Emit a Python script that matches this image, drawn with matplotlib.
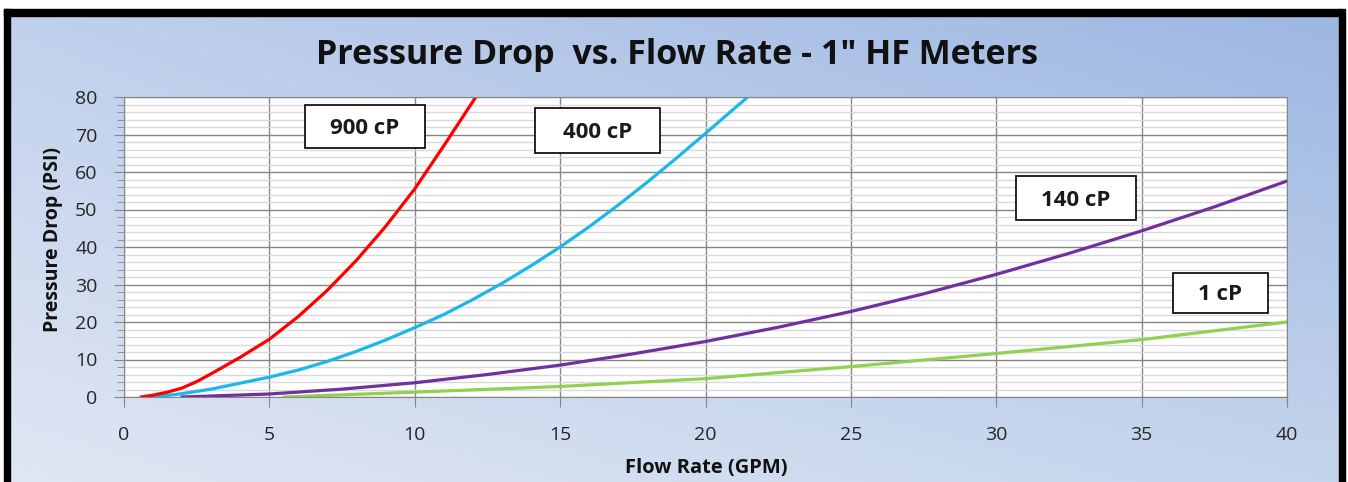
import numpy as np
import matplotlib.pyplot as plt
from matplotlib.patches import Rectangle

# flow rate (GPM) vs pressure drop (PSI)
red_x = [0.6, 1, 1.5, 2, 2.5, 3, 4, 5, 6, 7, 8, 9, 10, 11, 12.1]
red_y = [0, 0.5, 1.3, 2.4, 4.1, 6.2, 10.6, 15.4, 21.5, 28.5, 36.5, 45.5, 55.5, 67, 80]

blue_x = [1.0, 2, 3, 4, 5, 6, 7, 8, 9, 10, 11, 12, 13, 14, 15, 16, 17, 18, 19, 20, 21.45]
blue_y = [0, 0.9, 2.1, 3.7, 5.3, 7.2, 9.5, 12.2, 15.2, 18.5, 22, 26, 30.3, 35, 40, 45.4, 51.2, 57.3, 63.7, 70.3, 80]

purple_x = [2, 5, 7.5, 10, 12.5, 15, 17.5, 20, 22.5, 25, 27.5, 30, 32.5, 35, 37.5, 40]
purple_y = [0, 0.8, 2.1, 3.8, 6.0, 8.5, 11.5, 14.8, 18.6, 22.8, 27.5, 32.7, 38.3, 44.3, 50.7, 57.6]

green_x = [5.5, 10, 15, 20, 25, 30, 35, 40]
green_y = [0, 1.3, 2.8, 4.9, 8.1, 11.6, 15.3, 20.0]

labels = ["900 cP", "400 cP", "140 cP", "1 cP"]

W, H = 1348, 482
fig = plt.figure(figsize=(W / 100, H / 100), dpi=100)

# gradient background
bg = fig.add_axes([0, 0, 1, 1], zorder=-5)
bg.set_axis_off()
yy, xx = np.mgrid[0:1:200j, 0:1:400j]
tl = np.array([192, 208, 236]) / 255
tr = np.array([156, 182, 226]) / 255
bl = np.array([224, 231, 243]) / 255
br = np.array([196, 212, 236]) / 255
img = (tl[None, None] * ((1 - xx) * (1 - yy))[..., None] + tr[None, None] * (xx * (1 - yy))[..., None]
       + bl[None, None] * ((1 - xx) * yy)[..., None] + br[None, None] * (xx * yy)[..., None])
bg.imshow(img, extent=[0, 1, 0, 1], aspect='auto', origin='upper')
bg.set_xlim(0, 1)
bg.set_ylim(0, 1)
# white strip at top and black frame
bg.add_patch(Rectangle((0, 1 - 10 / H), 1, 10 / H, color='white'))
bg.add_patch(Rectangle((0, 0), 5 / W, 1, color='white'))
bg.add_patch(Rectangle((1 - 3 / W, 0), 3 / W, 1, color='white'))
bg.add_patch(Rectangle((4 / W, 0), 6 / W, 1 - 9 / H, color='black'))
bg.add_patch(Rectangle((1 - 9 / W, 0), 6 / W, 1 - 9 / H, color='black'))
bg.add_patch(Rectangle((4 / W, 1 - 16 / H), 1 - 12 / W, 7 / H, color='black'))

ax = fig.add_axes([124 / W, 1 - 397 / H, (1287 - 124) / W, (397 - 97) / H])
ax.set_facecolor('white')
ax.set_xlim(0, 40)
ax.set_ylim(0, 80)
ax.set_xticks(np.arange(0, 41, 5))
ax.set_yticks(np.arange(0, 81, 10))
ax.set_yticks(np.arange(0, 81, 2), minor=True)
ax.grid(which='minor', axis='y', color='#d9d9d9', lw=1.0)
ax.grid(which='major', axis='both', color='#868686', lw=1.0)
ax.set_axisbelow(True)
for s in ax.spines.values():
    s.set_color('#868686')
ax.tick_params(which='major', direction='out', length=7, color='#868686', labelsize=14,
               labelcolor='#262626')
ax.tick_params(axis='x', pad=14)
ax.tick_params(axis='y', pad=12)
ax.tick_params(which='minor', direction='out', length=5, color='#868686')
for lab in ax.get_xticklabels() + ax.get_yticklabels():
    lab.set_family('Open Sans')

ax.plot(green_x, green_y, color='#92d050', lw=2.3)
ax.plot(purple_x, purple_y, color='#7030a0', lw=2.3)
ax.plot(blue_x, blue_y, color='#1ab7ea', lw=2.3)
ax.plot(red_x, red_y, color='#ff0000', lw=2.3)

boxes = [(305, 105, 120, 43), (535, 108, 125, 45), (1016, 176, 120, 44), (1173, 273, 95, 40)]
for (bx, by, bw, bh), t in zip(boxes, labels):
    fig.patches.append(Rectangle((bx / W, 1 - (by + bh) / H), bw / W, bh / H, transform=fig.transFigure,
                                 facecolor='white', edgecolor='black', lw=1.2, zorder=5))
    fig.text((bx + bw / 2) / W, 1 - (by + bh / 2 + 2) / H, t, ha='center', va='center', fontsize=16,
             fontweight='bold', family='Open Sans', color='#1a1a1a', zorder=6)

fig.text(677 / W, 1 - 55 / H, 'Pressure Drop  vs. Flow Rate - 1" HF Meters', ha='center', va='center',
         fontsize=24.5, fontweight='bold', family='Open Sans', color='#111111')
fig.text(706 / W, 1 - 468 / H, 'Flow Rate (GPM)', ha='center', va='center', fontsize=14.5,
         fontweight='bold', family='Open Sans', color='#111111')
fig.text(53 / W, 1 - 239 / H, 'Pressure Drop (PSI)', ha='center', va='center', rotation=90, fontsize=14,
         fontweight='bold', family='Open Sans', color='#111111')

fig.savefig('out.png', dpi=100)
